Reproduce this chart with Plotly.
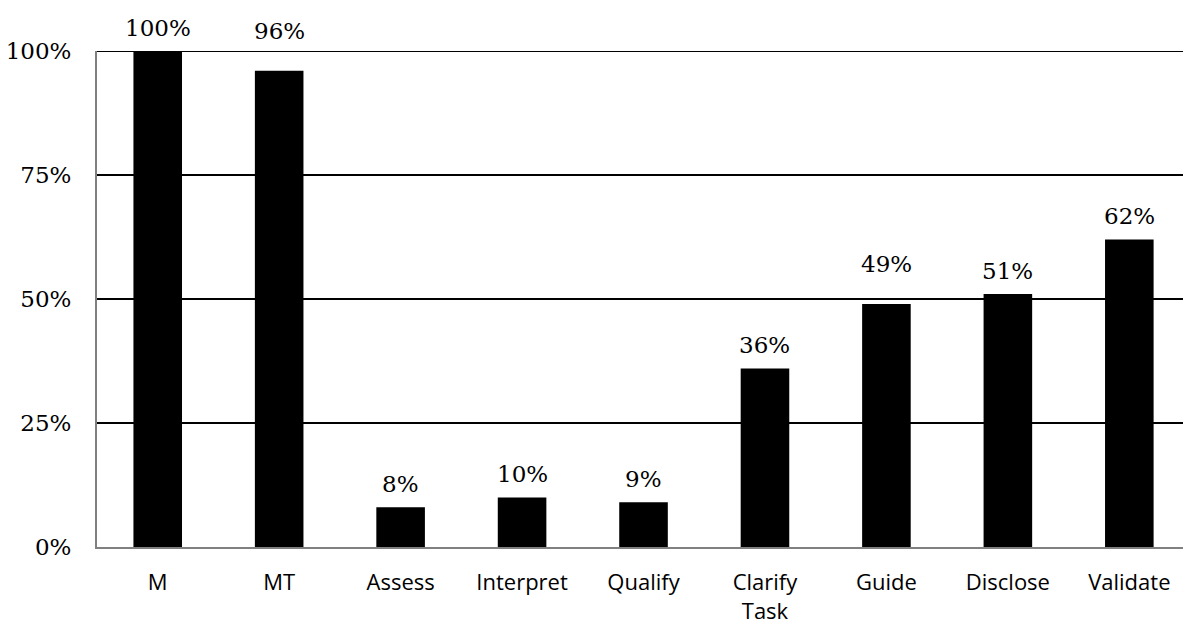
import plotly.graph_objects as go

categories = ["M", "MT", "Assess", "Interpret", "Qualify", "Clarify<br>Task", "Guide", "Disclose", "Validate"]
values = [1.00, 0.96, 0.08, 0.10, 0.09, 0.36, 0.49, 0.51, 0.62]
labels = ["100%", "96%", "8%", "10%", "9%", "36%", "49%", "51%", "62%"]
tick_vals = [0, 0.25, 0.5, 0.75, 1.0]
tick_text = ["0%", "25%", "50%", "75%", "100%"]

serif = "DejaVu Serif, Liberation Serif, serif"
sans = "Open Sans, Liberation Sans, sans-serif"

fig = go.Figure(go.Bar(
    x=categories, y=values,
    marker=dict(color="black", line=dict(width=0)),
    cliponaxis=False, hoverinfo="x+y",
))

# value labels; a label that would cross a gridline is lifted above it
annotations = []
for cat, val, lab in zip(categories, values, labels):
    shift = 8
    near_grid = any(0 < g - val < 0.05 for g in tick_vals)
    if near_grid:
        shift = 25
    annotations.append(dict(
        x=cat, y=val, text=lab, showarrow=False, xanchor="center", yanchor="bottom",
        yshift=shift, font=dict(family=serif, size=23, color="black"),
    ))

fig.update_layout(
    width=1183, height=624,
    margin=dict(l=97, r=0, t=51, b=77),
    plot_bgcolor="white", paper_bgcolor="white",
    bargap=0.6, showlegend=False,
    annotations=annotations,
    shapes=[dict(type="line", xref="paper", yref="y", x0=0, x1=1, y0=1, y1=1,
                 line=dict(color="black", width=2), layer="below")],
)
fig.update_yaxes(
    range=[0, 1], tickvals=tick_vals, ticktext=tick_text,
    showgrid=True, gridcolor="black", gridwidth=2,
    tickfont=dict(family=serif, size=23, color="black"),
    ticks="", ticklabelstandoff=19,
    showline=True, linecolor="#808080", linewidth=2,
    zeroline=False,
)
fig.update_xaxes(
    range=[-0.5, 8.442],
    tickfont=dict(family=sans, size=22, color="black"),
    showline=True, linecolor="#808080", linewidth=2,
    ticks="", ticklabelstandoff=15,
)
fig.write_html(
    "out.html",
    config={"displayModeBar": False},
    post_script="document.body.style.margin='0';document.body.style.overflow='hidden';",
)
